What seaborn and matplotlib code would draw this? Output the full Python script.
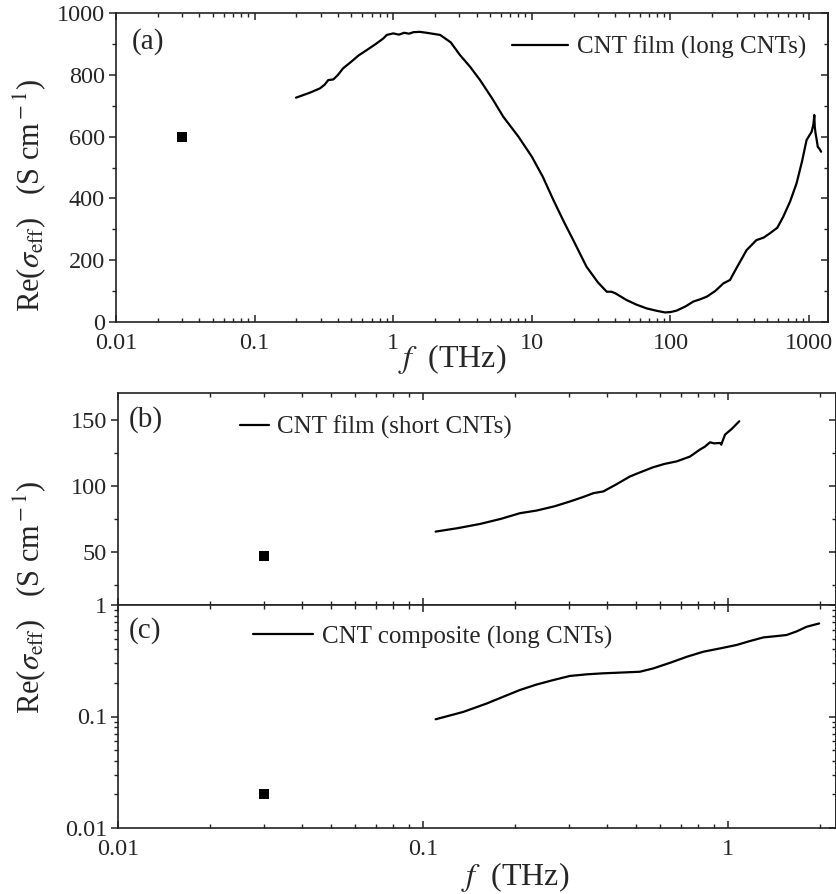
import numpy as np
import pandas as pd
import matplotlib
matplotlib.use("Agg")
import matplotlib.pyplot as plt
import matplotlib.ticker as mticker
import seaborn as sns

# ---------------- data ----------------
# panel (a): CNT film (long CNTs)
f_a = [0.199, 0.25, 0.296, 0.32, 0.34, 0.37, 0.40, 0.435, 0.50, 0.56, 0.644, 0.75, 0.85, 0.898,
       1.0, 1.1, 1.2, 1.3, 1.4, 1.56, 1.8, 2.18, 2.6, 3.03, 3.6, 4.23, 5.2, 6.23, 8.0, 10.0, 12.0,
       14.3, 17.0, 19.9, 24.8, 30.0, 34.7, 37.5, 40.0, 48.3, 57.0, 67.4, 80.0, 91.3, 100.0, 111.0,
       128.0, 146.0, 165.0, 183.0, 210.0, 241.0, 269.0, 300.0, 355.0, 417.0, 470.0, 522.0, 590.0,
       652.0, 730.0, 813.0, 890.0, 960.0, 1045.0, 1075.0, 1091.0, 1100.0, 1115.0, 1135.0, 1156.0,
       1190.0, 1222.0]
s_a = [726, 742, 756, 768, 783, 785, 800, 821, 843, 862, 880, 900, 918, 929,
       934, 930, 936, 933, 938, 939, 935, 929, 905, 864, 825, 783, 722, 664, 600, 535, 470,
       395, 325, 265, 179, 128, 98, 98, 93, 71, 56, 44, 36, 31, 32, 37,
       50, 66, 74, 82, 100, 125, 136, 175, 233, 265, 273, 287, 305,
       341, 390, 449, 520, 589, 616, 640, 670, 630, 610, 590, 567, 560, 551]
pt_a_f = [0.03]
pt_a_s = [600]

# panel (b): CNT film (short CNTs)
f_b = [0.110, 0.13, 0.154, 0.18, 0.208, 0.236, 0.27, 0.303, 0.335, 0.362, 0.390, 0.43, 0.477,
       0.52, 0.569, 0.62, 0.679, 0.75, 0.809, 0.84, 0.873, 0.90, 0.942, 0.95, 0.978, 1.03, 1.089]
s_b = [65.4, 68.0, 71.2, 75.0, 79.3, 81.3, 84.5, 88.1, 91.5, 94.4, 95.7, 101.0, 107.0,
       110.5, 114.0, 116.5, 118.4, 122.0, 127.3, 129.5, 132.8, 132.0, 132.3, 131.0, 138.6, 143.0, 148.7]
pt_b_f = [0.03]
pt_b_s = [47]

# panel (c): CNT composite (long CNTs)
f_c = [0.110, 0.1356, 0.162, 0.185, 0.208, 0.235, 0.267, 0.303, 0.345, 0.390, 0.45, 0.514,
       0.569, 0.65, 0.732, 0.830, 0.95, 1.067, 1.18, 1.306, 1.43, 1.556, 1.68, 1.81, 1.99]
s_c = [0.0944, 0.110, 0.131, 0.152, 0.173, 0.193, 0.212, 0.231, 0.239, 0.244, 0.248, 0.252,
       0.270, 0.305, 0.343, 0.381, 0.410, 0.438, 0.475, 0.512, 0.525, 0.538, 0.58, 0.638, 0.683]
pt_c_f = [0.03]
pt_c_s = [0.02]

xt_a = [0.01, 0.1, 1, 10, 100, 1000]
xt_a_lab = ["0.01", "0.1", "1", "10", "100", "1000"]
yt_a = [0, 200, 400, 600, 800, 1000]
yt_b = [50, 100, 150]
yt_c = [0.01, 0.1, 1]
yt_c_lab = ["0.01", "0.1", "1"]
xt_c = [0.01, 0.1, 1]
xt_c_lab = ["0.01", "0.1", "1"]

# ---------------- style ----------------
sns.set_style("ticks")
plt.rcParams["font.family"] = ["Liberation Serif", "DejaVu Serif"]
plt.rcParams["mathtext.fontset"] = "stix"
plt.rcParams["axes.linewidth"] = 1.2
TICK_FS = 17.5
LAB_FS = 22
XLAB_FS = 23
LEG_FS = 18
PANEL_FS = 21

W, H = 837, 894
fig = plt.figure(figsize=(W / 100, H / 100), dpi=100)


def fx(px):
    return px / W


def fy(py):
    return 1 - py / H


ax_a = fig.add_axes([fx(116), fy(322), fx(828) - fx(116), fy(13) - fy(322)])
ax_b = fig.add_axes([fx(118), fy(605), fx(836) - fx(118), fy(393) - fy(605)])
ax_c = fig.add_axes([fx(118), fy(828), fx(836) - fx(118), fy(605) - fy(828)])

df_a = pd.DataFrame({"f": f_a, "s": s_a})
df_b = pd.DataFrame({"f": f_b, "s": s_b})
df_c = pd.DataFrame({"f": f_c, "s": s_c})

for ax, df, pf, ps, lab in [
    (ax_a, df_a, pt_a_f, pt_a_s, "CNT film (long CNTs)"),
    (ax_b, df_b, pt_b_f, pt_b_s, "CNT film (short CNTs)"),
    (ax_c, df_c, pt_c_f, pt_c_s, "CNT composite (long CNTs)"),
]:
    sns.lineplot(data=df, x="f", y="s", ax=ax, color="black", lw=1.6,
                 sort=False, estimator=None, label=lab)
    sns.scatterplot(x=pf, y=ps, ax=ax, marker="s", s=55, color="black",
                    edgecolor="black", linewidth=0)
    ax.set_xscale("log")
    ax.set_xlabel("")
    ax.set_ylabel("")

# panel a
ax_a.set_xlim(0.01, 1370)
ax_a.set_ylim(0, 1000)
ax_a.xaxis.set_major_locator(mticker.FixedLocator(xt_a))
ax_a.xaxis.set_major_formatter(mticker.FixedFormatter(xt_a_lab))
ax_a.xaxis.set_minor_locator(mticker.LogLocator(base=10, subs=np.arange(2, 10), numticks=20))
ax_a.xaxis.set_minor_formatter(mticker.NullFormatter())
ax_a.yaxis.set_major_locator(mticker.FixedLocator(yt_a))
ax_a.yaxis.set_minor_locator(mticker.MultipleLocator(100))

# panel b
ax_b.set_xlim(0.01, 2.26)
ax_b.set_ylim(10, 170)
ax_b.yaxis.set_major_locator(mticker.FixedLocator(yt_b))
ax_b.yaxis.set_minor_locator(mticker.MultipleLocator(25))
ax_b.xaxis.set_major_locator(mticker.FixedLocator(xt_c))
ax_b.xaxis.set_minor_locator(mticker.LogLocator(base=10, subs=np.arange(2, 10), numticks=20))
ax_b.xaxis.set_major_formatter(mticker.NullFormatter())
ax_b.xaxis.set_minor_formatter(mticker.NullFormatter())

# panel c
ax_c.set_xlim(0.01, 2.26)
ax_c.set_yscale("log")
ax_c.set_ylim(0.01, 1)
ax_c.xaxis.set_major_locator(mticker.FixedLocator(xt_c))
ax_c.xaxis.set_major_formatter(mticker.FixedFormatter(xt_c_lab))
ax_c.xaxis.set_minor_locator(mticker.LogLocator(base=10, subs=np.arange(2, 10), numticks=20))
ax_c.xaxis.set_minor_formatter(mticker.NullFormatter())
ax_c.yaxis.set_major_locator(mticker.FixedLocator(yt_c))
ax_c.yaxis.set_major_formatter(mticker.FixedFormatter(yt_c_lab))
ax_c.yaxis.set_minor_locator(mticker.LogLocator(base=10, subs=np.arange(2, 10), numticks=20))
ax_c.yaxis.set_minor_formatter(mticker.NullFormatter())

for ax in (ax_a, ax_b, ax_c):
    for sp in ax.spines.values():
        sp.set_visible(True)
        sp.set_linewidth(1.2)
        sp.set_color("#222222")
    ax.tick_params(axis="x", which="both", direction="in", top=True, bottom=True,
                   labelsize=TICK_FS, pad=8, color="#222222")
    ax.tick_params(axis="y", which="both", direction="out", left=True, right=False,
                   labelsize=TICK_FS, pad=3, color="#222222")
    ax.tick_params(which="major", length=5, width=1.1)
    ax.tick_params(which="minor", length=3, width=1.0)
    # right axis ticks pointing inward
    sec = ax.secondary_yaxis("right")
    sec.tick_params(axis="y", which="both", direction="in", labelright=False)
    sec.yaxis.set_major_locator(ax.yaxis.get_major_locator())
    sec.yaxis.set_minor_locator(ax.yaxis.get_minor_locator())
    sec.yaxis.set_major_formatter(mticker.NullFormatter())
    sec.yaxis.set_minor_formatter(mticker.NullFormatter())
    sec.tick_params(which="major", length=5, width=1.1, color="#222222")
    sec.tick_params(which="minor", length=3, width=1.0, color="#222222")
    sec.spines["right"].set_linewidth(1.2)

ax_b.tick_params(axis="x", which="both", labelbottom=False)

# legends
for ax, xy, hl in [(ax_a, (512, 47), 2.25), (ax_b, (240, 427), 1.15), (ax_c, (253, 637), 2.4)]:
    ax.legend(loc="center left", bbox_to_anchor=(fx(xy[0]), fy(xy[1])),
              bbox_transform=fig.transFigure, frameon=False, fontsize=LEG_FS,
              handlelength=hl, handletextpad=0.35, borderpad=0, borderaxespad=0)

# panel labels
fig.text(fx(132), fy(42), "(a)", fontsize=PANEL_FS, va="center", ha="left")
fig.text(fx(129), fy(420), "(b)", fontsize=PANEL_FS, va="center", ha="left")
fig.text(fx(129), fy(631), "(c)", fontsize=PANEL_FS, va="center", ha="left")

# axis labels
ylab = r"Re($\sigma_{\rm eff}$)   (S cm$^{\rm -1}$)"
fig.text(fx(30), fy(195), ylab, rotation=90, fontsize=LAB_FS, ha="center", va="center")
fig.text(fx(30), fy(597), ylab, rotation=90, fontsize=LAB_FS, ha="center", va="center")
fig.text(fx(452), fy(359), r"$f$  (THz)", fontsize=XLAB_FS, ha="center", va="center")
fig.text(fx(515), fy(877), r"$f$  (THz)", fontsize=XLAB_FS, ha="center", va="center")

fig.savefig("out.png", dpi=100)
